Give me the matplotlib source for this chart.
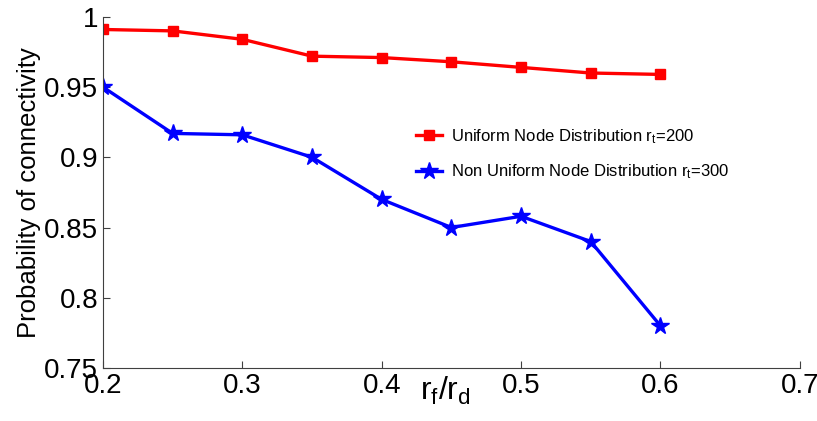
import matplotlib
matplotlib.use("Agg")
import matplotlib.pyplot as plt

plt.rcParams['font.family'] = ['Liberation Sans', 'DejaVu Sans']
plt.rcParams['mathtext.fontset'] = 'custom'
plt.rcParams['mathtext.rm'] = 'Liberation Sans'
plt.rcParams['mathtext.it'] = 'Liberation Sans'

ratio = [0.2, 0.25, 0.3, 0.35, 0.4, 0.45, 0.5, 0.55, 0.6]
uniform = [0.991, 0.990, 0.984, 0.972, 0.971, 0.968, 0.964, 0.960, 0.959]
nonuniform = [0.950, 0.917, 0.916, 0.900, 0.870, 0.850, 0.858, 0.840, 0.780]
xticks = [0.2, 0.3, 0.4, 0.5, 0.6, 0.7]
xticklabels = ['0.2', '0.3', '0.4', '0.5', '0.6', '0.7']
yticks = [0.75, 0.8, 0.85, 0.9, 0.95, 1.0]
yticklabels = ['0.75', '0.8', '0.85', '0.9', '0.95', '1']

fig = plt.figure(figsize=(8.17, 4.21), dpi=100)
ax = fig.add_axes([0.126, 0.126, 0.853, 0.834])

ax.plot(ratio, uniform, color='#ff0000', lw=2.4, marker='s', ms=7,
        label='Uniform Node Distribution $\\mathregular{r_t}$=200')
ax.plot(ratio, nonuniform, color='#0000ff', lw=2.4, marker='*', ms=13,
        label='Non Uniform Node Distribution $\\mathregular{r_t}$=300')

ax.set_xlim(0.2, 0.7)
ax.set_ylim(0.75, 1.0)
ax.set_xticks(xticks)
ax.set_xticklabels(xticklabels)
ax.set_yticks(yticks)
ax.set_yticklabels(yticklabels)
ax.tick_params(direction='in', labelsize=20, length=5, color='#404040')
for s in ['top', 'right']:
    ax.spines[s].set_visible(False)
for s in ['left', 'bottom']:
    ax.spines[s].set_color('#404040')

ax.set_ylabel('Probability of connectivity', fontsize=18.5, labelpad=2)
fig.text(445 / 817, 1 - 400 / 421, '$\\mathregular{r_f/r_d}$', fontsize=23,
         ha='center', va='baseline')

ax.legend(loc='upper left', bbox_to_anchor=(0.427, 0.729), frameon=False,
          fontsize=12, handlelength=1.6, handletextpad=0.5, labelspacing=1.0)

fig.savefig('out.png', dpi=100)
